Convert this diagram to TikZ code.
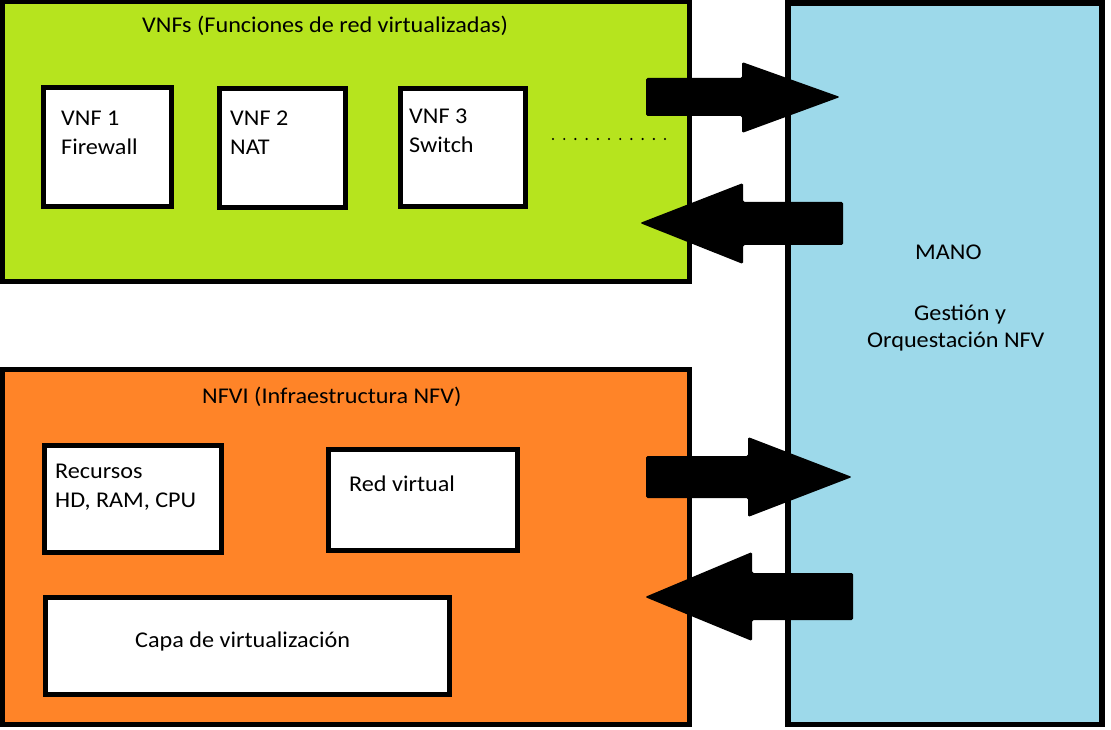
\documentclass[tikz,border=0pt]{standalone}
\usepackage{fontspec}
\setmainfont{Carlito}[FakeStretch=1.075]
\usetikzlibrary{fit}
\definecolor{vnfgreen}{RGB}{182,228,30}
\definecolor{nfviorange}{RGB}{255,132,40}
\definecolor{manoblue}{RGB}{157,217,234}
\tikzset{
  box/.style={draw=black, line width=5pt, inner sep=0pt, fill=white},
  txt/.style={inner sep=0pt, anchor=base west, font=\fontsize{22.5}{29}\selectfont},
  blockarrow/.style={fill=black, rounded corners=1.5pt},
}
\begin{document}
\begin{tikzpicture}[x=1pt,y=-1pt]
\useasboundingbox (0,0) rectangle (1111,730);
% containers
\node[box, fill=vnfgreen, fit={(2,2) (689.5,281)}] (vnfs) {};
\node[box, fill=nfviorange, fit={(2.5,369.5) (689.5,724.5)}] (nfvi) {};
\node[box, line width=5.5pt, fill=manoblue, fit={(788,3) (1102,724.5)}] (mano) {};
% VNF boxes
\node[box, fit={(43.5,87.5) (171.5,206.5)}] (vnf1) {};
\node[box, fit={(219.5,88.5) (345.5,207.5)}] (vnf2) {};
\node[box, fit={(400.5,88.5) (525.5,206.5)}] (vnf3) {};
% NFVI boxes
\node[box, fit={(44.5,445.5) (221.5,552.5)}] (rec) {};
\node[box, fit={(328.5,449.5) (517.5,550.5)}] (red) {};
\node[box, fit={(45.5,597.5) (449.5,694.5)}] (capa) {};
% texts
\node[txt] (tvnfs) at (142,33) {VNFs (Funciones de red virtualizadas)};
\node[txt] (t1a) at (61,126) {VNF 1};
\node[txt] (t1b) at (61,155) {Firewall};
\node[txt] (t2a) at (230,126) {VNF 2};
\node[txt] (t2b) at (230,155) {NAT};
\node[txt] (t3a) at (409,124) {VNF 3};
\node[txt] (t3b) at (409,153) {Switch};
\foreach \i in {0,...,10} {\fill (553+\i*11.2,139) circle (1.2pt);}
\node[txt] (tnfvi) at (202,403) {NFVI (Infraestructura NFV)};
\node[txt] (trec1) at (55,478) {Recursos};
\node[txt] (trec2) at (55,507) {HD, RAM, CPU};
\node[txt] (tred) at (349,491) {Red virtual};
\node[txt] (tcapa) at (135,647) {Capa de virtualización};
\node[txt] (tmano) at (915,259) {MANO};
\node[txt] (tges1) at (914,320) {Gestión y};
\node[txt] (tges2) at (867,347) {Orquestación NFV};
% block arrows
\fill[blockarrow] (646,78) -- (742,78) -- (742,62) -- (840,97) -- (742,133) -- (742,116) -- (646,116) -- cycle;
\fill[blockarrow] (843,202) -- (743,202) -- (743,183) -- (640,223) -- (743,264) -- (743,245) -- (843,245) -- cycle;
\fill[blockarrow] (646,456) -- (748,456) -- (748,437) -- (852,477) -- (748,517) -- (748,498) -- (646,498) -- cycle;
\fill[blockarrow] (853,573) -- (752,573) -- (752,552) -- (645,597) -- (752,641) -- (752,620) -- (853,620) -- cycle;
\end{tikzpicture}
\end{document}
